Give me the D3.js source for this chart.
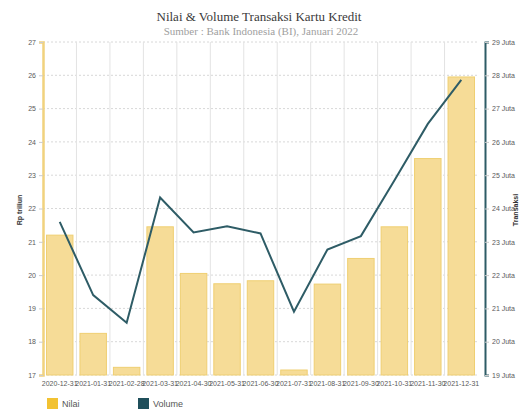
<!DOCTYPE html>
<html>
<head>
<meta charset="utf-8">
<script src="https://cdn.jsdelivr.net/npm/d3@7"></script>
<style>
  body { margin: 0; background: #fff; }
  .tick text { font-family: "Liberation Sans", Arial, sans-serif; font-size: 7px; fill: #5a5a5a; }
</style>
</head>
<body>
<script>
  var w = 527
  var h = 412

  //DATA
  var tanggal = ["2020-12-31", "2021-01-31", "2021-02-28", "2021-03-31", "2021-04-30", "2021-05-31",
      "2021-06-30", "2021-07-31", "2021-08-31", "2021-09-30", "2021-10-31", "2021-11-30", "2021-12-31"];
  var nilai = [21.2, 18.25, 17.23, 21.45, 20.05, 19.74, 19.83, 17.15, 19.73, 20.5, 21.45, 23.5, 25.95]; // Rp triliun
  var volume = [23.6, 21.4, 20.57, 24.33, 23.28, 23.47, 23.25, 20.9, 22.77, 23.17, 24.84, 26.54, 27.86]; // juta transaksi
  var nilaiTicks = [17, 18, 19, 20, 21, 22, 23, 24, 25, 26, 27];
  var volumeTicks = [19, 20, 21, 22, 23, 24, 25, 26, 27, 28, 29];

  // "top" is taken by window.top, so plot edges get their own names
  var pLeft = 43, pRight = 478, pTop = 42, pBottom = 375

  //SCALES
  var x = d3.scaleBand()
      .domain(tanggal)
      .range([pLeft, pRight]);

  var yL = d3.scaleLinear().domain([17, 27]).range([pBottom, pTop]);
  var yR = d3.scaleLinear().domain([19, 29]).range([pBottom, pTop]);

  var svg = d3.select("body")
      .append("svg")
      .attr("width", w)
      .attr("height", h);

  //TITLE
  svg.append("text")
      .attr("x", 259).attr("y", 21)
      .attr("text-anchor", "middle")
      .attr("font-family", "'Liberation Serif', 'Times New Roman', serif")
      .attr("font-size", "13px")
      .attr("fill", "#3a3a3a")
      .text("Nilai & Volume Transaksi Kartu Kredit");

  svg.append("text")
      .attr("x", 261).attr("y", 35)
      .attr("text-anchor", "middle")
      .attr("font-family", "'Liberation Serif', 'Times New Roman', serif")
      .attr("font-size", "11px")
      .attr("fill", "#a0a0a0")
      .text("Sumber : Bank Indonesia (BI), Januari 2022");

  //GRID
  svg.append("g")
      .selectAll("line")
      .data(nilaiTicks)
      .enter()
      .append("line")
      .attr("x1", pLeft).attr("x2", pRight)
      .attr("y1", function (d) { return yL(d); })
      .attr("y2", function (d) { return yL(d); })
      .attr("stroke", "#d8d8d8")
      .attr("stroke-dasharray", "2,2");

  svg.append("g")
      .selectAll("line")
      .data(tanggal.slice(1))
      .enter()
      .append("line")
      .attr("x1", function (d) { return x(d); })
      .attr("x2", function (d) { return x(d); })
      .attr("y1", pTop).attr("y2", pBottom)
      .attr("stroke", "#e3e3e3");

  //BARS
  svg.selectAll("rect.bar")
      .data(nilai)
      .enter()
      .append("rect")
      .attr("class", "bar")
      .attr("x", function (d, i) { return x(tanggal[i]) + 3.5; })
      .attr("y", function (d) { return yL(d); })
      .attr("width", x.bandwidth() - 7)
      .attr("height", function (d) { return pBottom - yL(d); })
      .attr("fill", "#f6dc97")
      .attr("stroke", "#efcf72")
      .attr("stroke-width", 1);

  //LINE
  var line = d3.line()
      .x(function (d, i) { return x(tanggal[i]) + x.bandwidth() / 2; })
      .y(function (d) { return yR(d); });

  svg.append("path")
      .datum(volume)
      .attr("d", line)
      .attr("fill", "none")
      .attr("stroke", "#2e5c66")
      .attr("stroke-width", 2);

  //AXES
  var axL = svg.append("g")
      .attr("transform", "translate(" + pLeft + ",0)")
      .call(d3.axisLeft(yL).tickValues(nilaiTicks).tickSize(4).tickFormat(d3.format("d")));
  axL.select(".domain").attr("stroke", "#f1d27e").attr("stroke-width", 2.5);
  axL.selectAll(".tick line").attr("stroke", "#ccc");

  var axR = svg.append("g")
      .attr("transform", "translate(485,0)")
      .call(d3.axisRight(yR).tickValues(volumeTicks).tickSize(4).tickFormat(function (d) { return d + " Juta"; }));
  axR.select(".domain").attr("stroke", "#2e5c66").attr("stroke-width", 2);
  axR.selectAll(".tick line").attr("stroke", "#ccc");

  var axX = svg.append("g")
      .attr("transform", "translate(0," + pBottom + ")")
      .call(d3.axisBottom(x).tickSize(0).tickPadding(6));
  axX.select(".domain").remove();

  //AXIS TITLES
  svg.append("text")
      .attr("transform", "translate(22,210) rotate(-90)")
      .attr("text-anchor", "middle")
      .attr("font-family", "'Liberation Sans', Arial, sans-serif")
      .attr("font-size", "7px")
      .attr("font-weight", "bold")
      .attr("fill", "#333")
      .text("Rp triliun");

  svg.append("text")
      .attr("transform", "translate(518,210) rotate(-90)")
      .attr("text-anchor", "middle")
      .attr("font-family", "'Liberation Sans', Arial, sans-serif")
      .attr("font-size", "7px")
      .attr("font-weight", "bold")
      .attr("fill", "#333")
      .text("Transaksi");

  //LEGEND
  var legend = [{ name: "Nilai", color: "#f2c232", x: 47 }, { name: "Volume", color: "#1f4f5b", x: 138 }];
  var lg = svg.selectAll("g.legend")
      .data(legend)
      .enter()
      .append("g")
      .attr("transform", function (d) { return "translate(" + d.x + ",398)"; });
  lg.append("rect")
      .attr("width", 11).attr("height", 11)
      .attr("fill", function (d) { return d.color; });
  lg.append("text")
      .attr("x", 15).attr("y", 9)
      .attr("font-family", "'Liberation Sans', Arial, sans-serif")
      .attr("font-size", "9px")
      .attr("fill", "#555")
      .text(function (d) { return d.name; });
</script>
</body>
</html>
